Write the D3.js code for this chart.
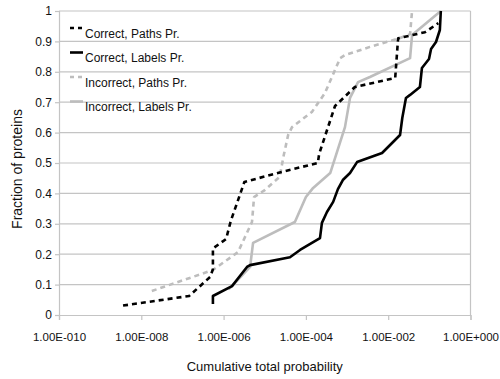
<!DOCTYPE html>
<html>
<head>
<meta charset="utf-8">
<script src="https://cdn.jsdelivr.net/npm/d3@7"></script>
<style>
  html, body { margin: 0; padding: 0; background: #fff; }
  svg { display: block; font-family: "Liberation Sans", Arial, sans-serif; }
</style>
</head>
<body>
<svg id="chart" width="500" height="379"></svg>
<script>
// Cumulative total probability (x) vs fraction of proteins (y)
const correctPaths = [
  [3.6e-9, 0.031], [1.45e-7, 0.0625], [4.7e-7, 0.125], [5.5e-7, 0.15],
  [5.5e-7, 0.219], [1.15e-6, 0.25], [1.5e-6, 0.31], [3.2e-6, 0.4375],
  [2.3e-5, 0.469], [1.95e-4, 0.5], [2.1e-4, 0.53], [5.1e-4, 0.6875],
  [1.55e-3, 0.75], [1.48e-2, 0.78], [1.74e-2, 0.91], [7.8e-2, 0.93],
  [0.165, 0.96]
];
const correctLabels = [
  [5.5e-7, 0.036], [5.5e-7, 0.0625], [1.6e-6, 0.095], [3.7e-6, 0.158],
  [4.4e-6, 0.164], [4.1e-5, 0.19], [7.2e-5, 0.214], [2.2e-4, 0.253],
  [2.45e-4, 0.303], [3.25e-4, 0.339], [4.6e-4, 0.372], [6.0e-4, 0.414],
  [7.9e-4, 0.444], [1.18e-3, 0.467], [1.75e-3, 0.503], [7.1e-3, 0.533],
  [1.94e-2, 0.592], [2.2e-2, 0.648], [2.7e-2, 0.714], [3.4e-2, 0.724],
  [5.9e-2, 0.75], [6.6e-2, 0.8125], [9.8e-2, 0.842], [0.11, 0.875],
  [0.145, 0.898], [0.18, 0.9375], [0.19, 1.0]
];
const incorrectPaths = [
  [1.8e-8, 0.079], [5.5e-7, 0.148], [2.24e-6, 0.207], [4.9e-6, 0.306],
  [5.5e-6, 0.388], [1.0e-5, 0.411], [2.3e-5, 0.454], [2.9e-5, 0.526],
  [3.7e-5, 0.592], [4.6e-5, 0.618], [1.4e-4, 0.668], [2.9e-4, 0.73],
  [6.8e-4, 0.845], [8.9e-4, 0.855], [3.6e-3, 0.882], [1.94e-2, 0.911],
  [3.4e-2, 0.924], [3.8e-2, 1.0]
];
const incorrectLabels = [
  [1.3e-6, 0.085], [1.6e-6, 0.095], [4.4e-6, 0.158], [5.2e-6, 0.237],
  [5.4e-5, 0.306], [1.0e-4, 0.388], [1.5e-4, 0.418], [3.9e-4, 0.467],
  [8.9e-4, 0.618], [1.18e-3, 0.714], [1.85e-3, 0.766], [3.6e-3, 0.783],
  [3.4e-2, 0.845], [3.8e-2, 0.921], [0.19, 1.0]
];

const seriesNames = ["Correct, Paths Pr.", "Correct, Labels Pr.", "Incorrect, Paths Pr.", "Incorrect, Labels Pr."];
const seriesData = [correctPaths, correctLabels, incorrectPaths, incorrectLabels];
const seriesColors = ["#000000", "#000000", "#bdbdbd", "#bdbdbd"];
const seriesDashed = [true, false, true, false];

const xTicks = [1e-10, 1e-8, 1e-6, 1e-4, 1e-2, 1];
const yTicks = [0, 0.1, 0.2, 0.3, 0.4, 0.5, 0.6, 0.7, 0.8, 0.9, 1];

const svg = d3.select("#chart");
const plotLeft = 59, plotRight = 470.5, plotTop = 11, plotBottom = 315;

const x = d3.scaleLog().domain([1e-10, 1]).range([plotLeft, plotRight]);
const y = d3.scaleLinear().domain([0, 1]).range([plotBottom, plotTop]);

const gridColor = "#c4c4c4";

// horizontal gridlines
svg.append("g")
  .selectAll("line")
  .data(yTicks.slice(1))
  .join("line")
  .attr("x1", plotLeft).attr("x2", plotRight)
  .attr("y1", d => y(d)).attr("y2", d => y(d))
  .attr("stroke", gridColor).attr("stroke-width", 1.2);

// right border of the plot area
svg.append("line")
  .attr("x1", plotRight).attr("x2", plotRight)
  .attr("y1", plotTop).attr("y2", plotBottom)
  .attr("stroke", gridColor).attr("stroke-width", 1.2);

const fmtSci = d => {
  const e = Math.round(Math.log10(d));
  return "1.00E" + (e < 0 ? "-" : "+") + String(Math.abs(e)).padStart(3, "0");
};

// x axis
const xAxis = svg.append("g")
  .attr("transform", `translate(0,${plotBottom})`)
  .call(d3.axisBottom(x).tickValues(xTicks).tickFormat(fmtSci).tickSize(5).tickPadding(13));
xAxis.select(".domain").attr("stroke", gridColor).attr("stroke-width", 1.2);
xAxis.selectAll(".tick line").attr("stroke", gridColor).attr("stroke-width", 1.2);
xAxis.selectAll(".tick text")
  .attr("font-size", 11.5).attr("fill", "#111")
  .attr("font-family", "Liberation Sans, Arial, sans-serif");

// y axis
const yAxis = svg.append("g")
  .attr("transform", `translate(${plotLeft},0)`)
  .call(d3.axisLeft(y).tickValues(yTicks).tickFormat(d => String(d)).tickSize(4).tickPadding(3));
yAxis.select(".domain").attr("stroke", gridColor).attr("stroke-width", 1.2);
yAxis.selectAll(".tick line").attr("stroke", gridColor).attr("stroke-width", 1.2);
yAxis.selectAll(".tick text")
  .attr("font-size", 12).attr("fill", "#111")
  .attr("font-family", "Liberation Sans, Arial, sans-serif");

// axis titles
svg.append("text")
  .attr("x", (plotLeft + plotRight) / 2).attr("y", 371)
  .attr("text-anchor", "middle")
  .attr("font-size", 13).attr("fill", "#111")
  .text("Cumulative total probability");

svg.append("text")
  .attr("transform", `translate(22,${(plotTop + plotBottom) / 2 + 6}) rotate(-90)`)
  .attr("text-anchor", "middle")
  .attr("font-size", 14).attr("fill", "#111")
  .text("Fraction of proteins");

// series lines
const line = d3.line().x(d => x(d[0])).y(d => y(d[1]));
const drawOrder = [3, 2, 1, 0];
drawOrder.forEach(i => {
  svg.append("path")
    .datum(seriesData[i])
    .attr("d", line)
    .attr("fill", "none")
    .attr("stroke", seriesColors[i])
    .attr("stroke-width", 2.6)
    .attr("stroke-linejoin", "round")
    .attr("stroke-dasharray", seriesDashed[i] ? "5,4" : null);
});

// legend
const legend = svg.append("g");
seriesNames.forEach((name, i) => {
  const cy = 33 + i * 24.5;
  legend.append("line")
    .attr("x1", 70).attr("x2", 83)
    .attr("y1", cy - 5).attr("y2", cy - 5)
    .attr("stroke", seriesColors[i])
    .attr("stroke-width", 2.6)
    .attr("stroke-dasharray", seriesDashed[i] ? "4,4" : null);
  legend.append("text")
    .attr("x", 85).attr("y", cy + 4.5)
    .attr("font-size", 12).attr("fill", "#111")
    .text(name);
});
</script>
</body>
</html>
